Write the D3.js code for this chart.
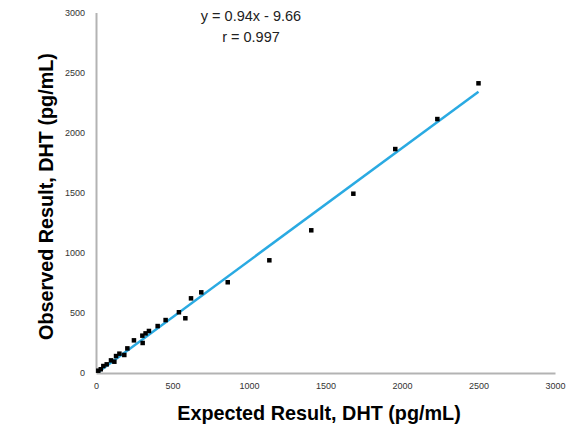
<!DOCTYPE html>
<html><head><meta charset="utf-8">
<script src="https://cdn.jsdelivr.net/npm/d3@7"></script>
<style>body{margin:0;background:#fff}svg{display:block}</style>
</head><body>
<svg id="c" width="586" height="424"></svg>
<script>
const expected = [15,31,48,70,98,120,131,153,185,205,248,303,305,324,346,403,455,542,584,621,688,861,1133,1407,1682,1956,2231,2500];
const observed = [15,27,54,68,101,90,137,157,146,201,268,307,246,326,346,387,437,502,452,618,668,752,935,1185,1490,1862,2112,2410];
const xTicks = [0,500,1000,1500,2000,2500,3000];
const yTicks = [0,500,1000,1500,2000,2500,3000];
const slope = 0.94, intercept = -9.66;
const eqText = "y = 0.94x - 9.66";
const rText = "r = 0.997";

const svg = d3.select("#c");
const x = d3.scaleLinear().domain([0,3000]).range([96,555]);
const y = d3.scaleLinear().domain([0,3000]).range([372.5,12.5]);

const xa = svg.append("g").attr("transform","translate(0,373)")
  .call(d3.axisBottom(x).tickValues(xTicks).tickSize(0).tickPadding(10).tickFormat(d3.format("d")));
const ya = svg.append("g").attr("transform","translate(96,0)")
  .call(d3.axisLeft(y).tickValues(yTicks).tickSize(0).tickPadding(11).tickFormat(d3.format("d")));
[xa,ya].forEach(a=>{
  a.select(".domain").attr("stroke","#b3b3b3").attr("stroke-width",2);
  a.selectAll("text").attr("font-family","Liberation Sans, Arial, sans-serif").attr("font-size",9).attr("fill","#333");
});

const xs = d3.extent(expected);
svg.append("line")
  .attr("x1",x(xs[0])).attr("y1",y(slope*xs[0]+intercept))
  .attr("x2",x(xs[1])).attr("y2",y(slope*xs[1]+intercept))
  .attr("stroke","#2aaae2").attr("stroke-width",2.5);

svg.append("g").selectAll("rect").data(expected).join("rect")
  .attr("x",(d)=>x(d)-2.25).attr("y",(d,i)=>y(observed[i])-2.25)
  .attr("width",4.5).attr("height",4.5).attr("fill","#000");

svg.append("text").attr("x",251).attr("y",21).attr("text-anchor","middle")
  .attr("font-family","Liberation Sans, Arial, sans-serif").attr("font-size",14.5).attr("fill","#222").text(eqText);
svg.append("text").attr("x",251).attr("y",42).attr("text-anchor","middle")
  .attr("font-family","Liberation Sans, Arial, sans-serif").attr("font-size",14.5).attr("fill","#222").text(rText);

svg.append("text").attr("x",319).attr("y",420).attr("text-anchor","middle")
  .attr("font-family","Liberation Sans, Arial, sans-serif").attr("font-weight","bold").attr("font-size",19.8).attr("fill","#000")
  .text("Expected Result, DHT (pg/mL)");
svg.append("text").attr("transform","translate(53,196.5) rotate(-90)").attr("text-anchor","middle")
  .attr("font-family","Liberation Sans, Arial, sans-serif").attr("font-weight","bold").attr("font-size",19.8).attr("fill","#000")
  .text("Observed Result, DHT (pg/mL)");
</script>
</body></html>
